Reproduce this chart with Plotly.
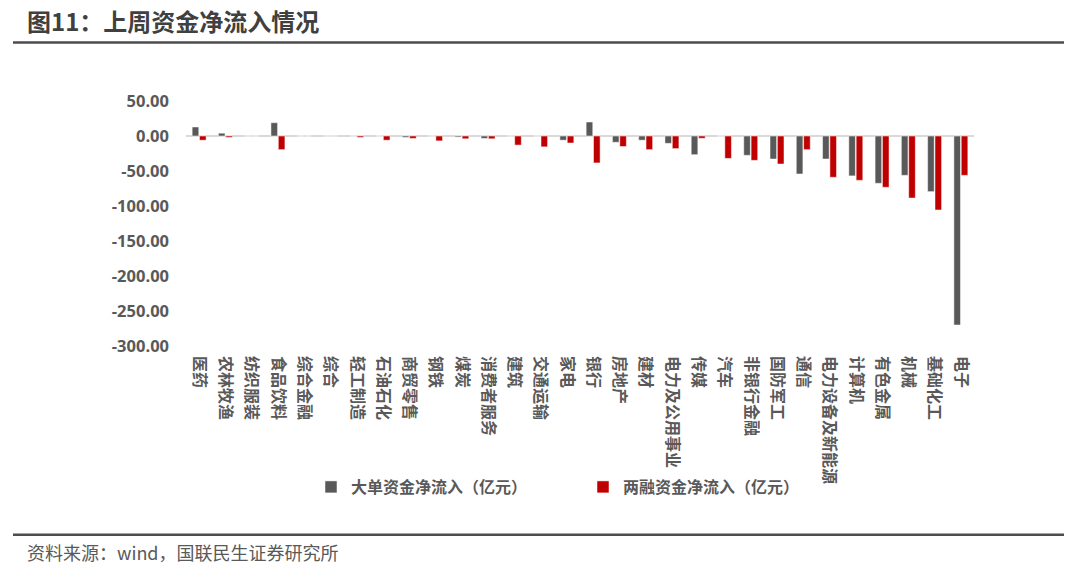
import plotly.graph_objects as go

categories = ["医药", "农林牧渔", "纺织服装", "食品饮料", "综合金融", "综合", "轻工制造", "石油石化",
              "商贸零售", "钢铁", "煤炭", "消费者服务", "建筑", "交通运输", "家电", "银行", "房地产",
              "建材", "电力及公用事业", "传媒", "汽车", "非银行金融", "国防军工", "通信",
              "电力设备及新能源", "计算机", "有色金属", "机械", "基础化工", "电子"]
big_order = [12.9, 4.0, 0.0, 19.0, 0.0, 0.0, 0.0, 0.0,
             -2.0, 0.0, -1.5, -3.5, 0.0, 0.0, -6.0, 20.0, -9.0,
             -6.0, -10.5, -26.7, 0.0, -27.6, -32.9, -54.3,
             -32.9, -57.0, -67.6, -56.2, -79.5, -270.0]
margin_fin = [-6.0, -2.0, 0.0, -19.5, 0.0, 0.0, -2.0, -6.0,
              -3.5, -7.0, -4.0, -4.0, -13.0, -15.5, -10.0, -38.5, -15.0,
              -19.5, -18.0, -3.3, -32.0, -34.8, -40.0, -19.5,
              -59.0, -63.3, -73.3, -88.6, -105.7, -56.2]
series_names = ["大单资金净流入（亿元）", "两融资金净流入（亿元）"]
y_ticks = [50, 0, -50, -100, -150, -200, -250, -300]
y_ticktext = [f"{v:.2f}" for v in y_ticks]

W, H = 1080, 570
L, R, T, B = 186, 974, 101, 346
pw, ph = R - L, B - T

def px(x):
    return (x - L) / pw

def py(y):
    return (B - y) / ph

FONT = "Open Sans, Noto Sans CJK SC, sans-serif"
CJK = "Noto Sans CJK SC, sans-serif"

fig = go.Figure()
fig.add_trace(go.Bar(x=categories, y=big_order, name=series_names[0],
                     marker=dict(color="#595959", line=dict(color="#FFFFFF", width=0.5))))
fig.add_trace(go.Bar(x=categories, y=margin_fin, name=series_names[1],
                     marker=dict(color="#C00000", line=dict(color="#FFFFFF", width=0.5))))

fig.update_layout(
    width=W, height=H,
    margin=dict(l=L, r=W - R, t=T, b=H - B),
    paper_bgcolor="white", plot_bgcolor="white",
    barmode="group", bargap=0.44, bargroupgap=0.1,
    showlegend=True,
    legend=dict(orientation="h", x=px(311), xanchor="left", y=py(487), yanchor="middle",
                bgcolor="rgba(0,0,0,0)",
                font=dict(family=CJK, size=16, color="#595959", weight="bold"),
                entrywidth=227, entrywidthmode="pixels", traceorder="normal"),
    xaxis=dict(tickangle=90, tickfont=dict(family=CJK, size=16, color="#595959", weight="bold"),
               showgrid=False, showline=False, ticks="", ticklabelstandoff=9),
    yaxis=dict(range=[-300, 50], tickvals=y_ticks, ticktext=y_ticktext, showgrid=False,
               zeroline=True, zerolinecolor="#D9D9D9", zerolinewidth=1.5,
               tickfont=dict(family=FONT, size=16.5, color="#595959", weight="bold"),
               ticks="", ticklabelstandoff=16),
    font=dict(family=CJK),
)

fig.add_annotation(text="图11：上周资金净流入情况", xref="paper", yref="paper",
                   x=px(25), y=py(20), xanchor="left", yanchor="middle", showarrow=False,
                   font=dict(family=CJK, size=24, color="#404040", weight="bold"))
fig.add_annotation(text="资料来源：wind，国联民生证券研究所", xref="paper", yref="paper",
                   x=px(25), y=py(552), xanchor="left", yanchor="middle", showarrow=False,
                   font=dict(family=CJK, size=18, color="#595959"))
for yy in (42.5, 534.7):
    fig.add_shape(type="line", xref="paper", yref="paper", x0=px(13), x1=px(1064),
                  y0=py(yy), y1=py(yy), line=dict(color="#4D4D4D", width=2.5))

fig.write_html("out.html", config={"displayModeBar": False},
               post_script="document.body.style.margin='0';")
